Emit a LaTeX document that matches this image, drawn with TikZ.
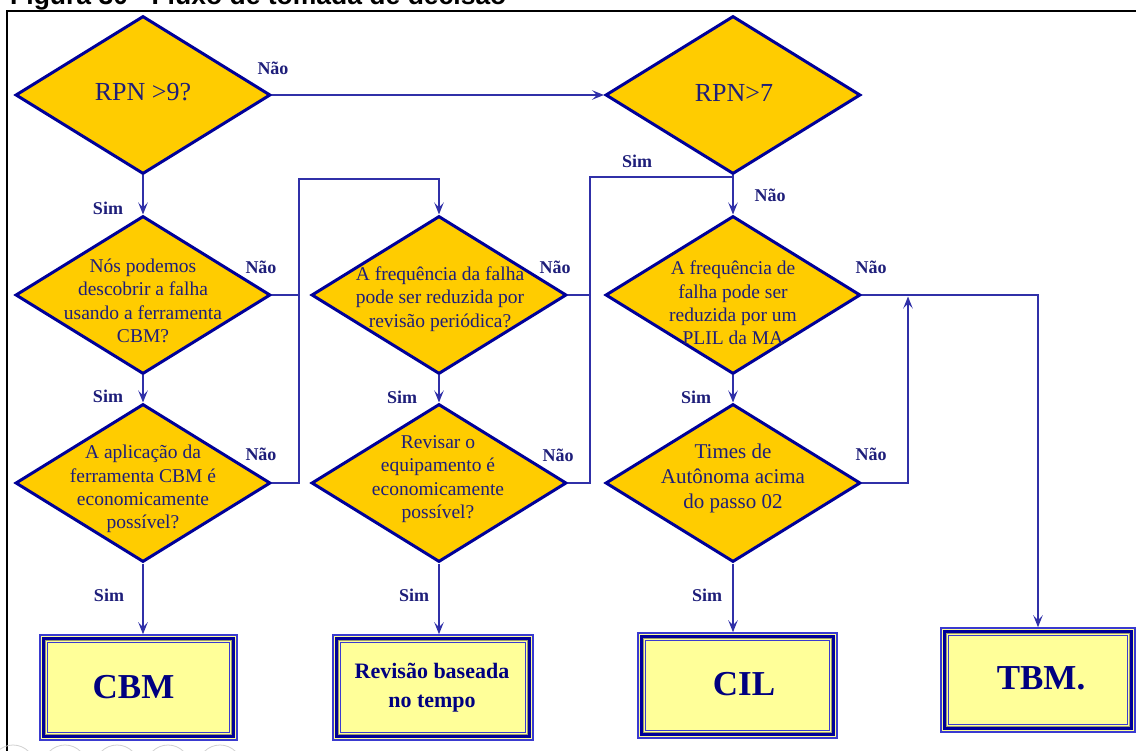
\documentclass[tikz,border=0pt]{standalone}
\usepackage{fontspec}
\setmainfont{Liberation Serif}
\newfontfamily\titlefont{Liberation Sans}
\usetikzlibrary{shapes.geometric,arrows.meta,calc}

\definecolor{gold}{HTML}{FFCC00}
\definecolor{navyline}{HTML}{000099}
\definecolor{inktext}{HTML}{1E1E7A}
\definecolor{boxink}{HTML}{000080}
\definecolor{wire}{HTML}{3030A8}
\definecolor{paleyellow}{HTML}{FFFF99}
\definecolor{boxedge}{HTML}{3A3AD0}
\definecolor{khakiline}{HTML}{9A9A70}

\tikzset{
  decision/.style={diamond, draw=navyline, fill=gold, line width=3pt,
    minimum width=255pt, minimum height=158pt, inner sep=0pt},
  qtext/.style={align=center, text=inktext, inner sep=0pt,
    font=\fontsize{19.5}{23.3}\selectfont},
  answer/.style={text=inktext, inner sep=0pt,
    font=\fontsize{18}{20}\selectfont\bfseries},
  flow/.style={draw=wire, line width=1.4pt},
  arrowflow/.style={flow, -{Stealth[length=12pt,width=9.5pt,inset=5pt]}},
  outcome/.style={draw=boxedge, line width=1.5pt, fill=paleyellow, inner sep=0pt},
  outcometext/.style={align=center, text=boxink, inner sep=0pt,
    font=\fontsize{35}{40}\selectfont\bfseries},
}

\begin{document}
\begin{tikzpicture}[x=1pt,y=-1pt]
\useasboundingbox (0,0) rectangle (1136,751);
\clip (0,0) rectangle (1136,751);
\fill[white] (0,0) rectangle (1136,751);

% caption above the frame
\node[anchor=base west, inner sep=0pt, font=\titlefont\bfseries\fontsize{26.5}{30}\selectfont]
  (title) at (10,5) {Figura 30 - Fluxo de tomada de decisão};

% frame
\draw[black, line width=2pt] (7,751) -- (7,11) -- (1136,11);

% page markers at the bottom
\foreach \cx in {13,65,117,168,220}
  \draw[black!18, line width=0.8pt] (\cx,767) circle[radius=22pt];

% decisions
\node[decision] (d1) at (143,95) {};
\node[decision] (d2) at (733,95) {};
\node[decision] (d3) at (143,295) {};
\node[decision] (d4) at (143,483) {};
\node[decision] (d5) at (439,295) {};
\node[decision] (d6) at (439,483) {};
\node[decision] (d7) at (733,295) {};
\node[decision] (d8) at (733,483) {};

\node[qtext, font=\fontsize{26}{30}\selectfont] (t1) at (143,92) {RPN >9?};
\node[qtext, font=\fontsize{26}{30}\selectfont] (t2) at (734,93) {RPN>7};
\node[qtext] (t3) at (143,301) {Nós podemos\\descobrir a falha\\usando a ferramenta\\CBM?};
\node[qtext] (t4) at (143,489) {A aplicação da\\ferramenta CBM é\\economicamente\\possível?};
\node[qtext] (t5) at (440,299) {A frequência da falha\\pode ser reduzida por\\revisão periódica?};
\node[qtext] (t6) at (438,479) {Revisar o\\equipamento é\\economicamente\\possível?};
\node[qtext] (t7) at (733,303) {A frequência de\\falha pode ser\\reduzida por um\\PLIL da MA};
\node[qtext, font=\fontsize{21}{25}\selectfont] (t8) at (733,478) {Times de\\Autônoma acima\\do passo 02};

% outcomes
\node[outcome, minimum width=197pt, minimum height=105pt] (cbm) at (138.5,687.5) {};
\node[outcome, minimum width=200pt, minimum height=105pt] (rev) at (433,687.5) {};
\node[outcome, minimum width=199pt, minimum height=105pt] (cil) at (737.5,685.5) {};
\node[outcome, minimum width=194pt, minimum height=104pt] (tbm) at (1038,680) {};

\foreach \b in {cbm,rev,cil,tbm}{
  \draw[navyline, line width=3pt]
    ([shift={(4,4)}]\b.north west) rectangle ([shift={(-4,-4)}]\b.south east);
  \draw[khakiline, line width=1pt]
    ([shift={(6.4,6.4)}]\b.north west) rectangle ([shift={(-6.4,-6.4)}]\b.south east);
  \draw[boxedge, line width=1pt]
    ([shift={(7.8,7.8)}]\b.north west) rectangle ([shift={(-7.8,-7.8)}]\b.south east);
}

\node[outcometext] (cbmt) at (133.5,687) {CBM};
\node[outcometext, font=\fontsize{22}{29}\selectfont\bfseries] (revt) at (432,687.5) {Revisão baseada\\no tempo};
\node[outcometext] (cilt) at (744,684) {CIL};
\node[outcometext] (tbmt) at (1041,678) {TBM.};

% straight flow
\draw[arrowflow] (d1.east) -- (d2.west);
\draw[arrowflow] (d1.south) -- (d3.north);
\draw[arrowflow] (d3.south) -- (d4.north);
\draw[arrowflow] (d4.south) -- (d4.south |- cbm.north);
\draw[arrowflow] (d5.south) -- (d6.north);
\draw[arrowflow] (d6.south) -- (d6.south |- rev.north);
\draw[arrowflow] (d2.south) -- (d7.north);
\draw[arrowflow] (d7.south) -- (d8.north);
\draw[arrowflow] (d8.south) -- (d8.south |- cil.north);

% return paths
\coordinate (j1) at (299,179);
\draw[flow] (d3.east) -- (d3.east -| j1);
\draw[arrowflow] (d4.east) -| (j1) -| (d5.north);

\coordinate (j2) at (590,177);
\draw[flow] (d5.east) -- (d5.east -| j2);
\draw[flow] (d6.east) -| (j2) -- (j2 -| d7.north);

\coordinate (rise) at (908,295);
\draw[arrowflow, shorten >=1.5pt] (d8.east) -| (rise);
\draw[arrowflow] (d7.east) -| (tbm.north);

% answers
\node[answer] (n1) at (273,68) {Não};
\node[answer] (s1) at (108,208) {Sim};
\node[answer] (n3) at (261,267) {Não};
\node[answer] (s3) at (108,396) {Sim};
\node[answer] (n4) at (261,454) {Não};
\node[answer] (s4) at (109,595) {Sim};
\node[answer] (n5) at (555,267) {Não};
\node[answer] (s5) at (402,397) {Sim};
\node[answer] (n6) at (558,455) {Não};
\node[answer] (s6) at (414,595) {Sim};
\node[answer] (s2) at (637,161) {Sim};
\node[answer] (n2) at (770,195) {Não};
\node[answer] (n7) at (871,267) {Não};
\node[answer] (s7) at (696,397) {Sim};
\node[answer] (n8) at (871,454) {Não};
\node[answer] (s8) at (707,595) {Sim};
\end{tikzpicture}
\end{document}
